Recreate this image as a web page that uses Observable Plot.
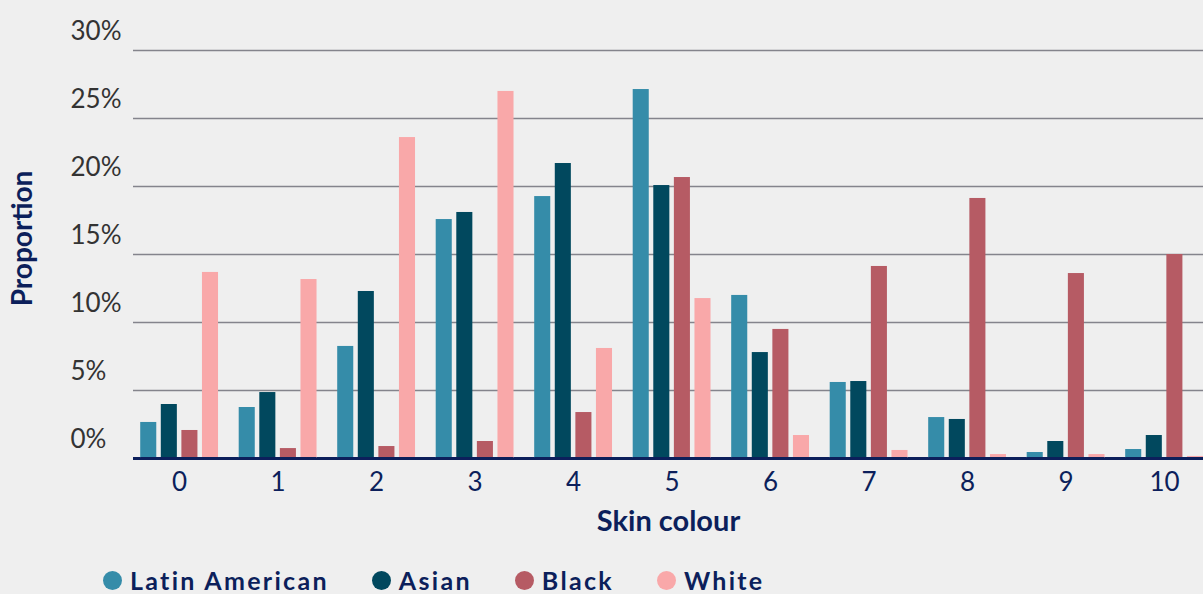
<!DOCTYPE html>
<html>
<head>
<meta charset="utf-8">
<script src="https://cdn.jsdelivr.net/npm/d3@7"></script>
<script src="https://cdn.jsdelivr.net/npm/@observablehq/plot@0.6"></script>
<style>
  html, body { margin: 0; padding: 0; background: #efefef; overflow: hidden; }
  body { width: 1203px; height: 594px; font-family: Lato, "Noto Sans", sans-serif; }
  #chart { position: relative; width: 1203px; height: 555px; }
  #chart svg { display: block; position: absolute; left: 0; top: 0; }
  #legend { display: flex; align-items: center; margin-top: 12px; padding-left: 103px; height: 26px; }
  .item { display: flex; align-items: center; margin-right: 43px; }
  .sw { width: 19px; height: 19px; border-radius: 50%; margin-right: 8px; }
  .lab { font-family: Lato, sans-serif; font-weight: 700; font-size: 25px; letter-spacing: 2.3px; color: #0c1f5b; line-height: 26px; }
</style>
</head>
<body>
<div id="chart"></div>
<div id="legend"></div>
<script>
const categories = ["0","1","2","3","4","5","6","7","8","9","10"];
const seriesNames = ["Latin American", "Asian", "Black", "White"];
const seriesColors = ["#358ca9", "#01485e", "#b65b64", "#f9a8a9"];
const latinAmerican = [2.65, 3.75, 8.24, 17.57, 19.26, 27.13, 11.99, 5.59, 3.01, 0.44, 0.66];
const asian         = [3.97, 4.85, 12.28, 18.09, 21.69, 20.07, 7.79, 5.66, 2.87, 1.25, 1.69];
const black         = [2.06, 0.73, 0.88, 1.25, 3.38, 20.66, 9.49, 14.12, 19.12, 13.6, 15.0];
const white         = [13.68, 13.16, 23.6, 26.99, 8.09, 11.76, 1.69, 0.59, 0.29, 0.29, 0.15];
const yTicks = [0, 5, 10, 15, 20, 25, 30];

const seriesValues = [latinAmerican, asian, black, white];
const data = [];
categories.forEach((c, i) => {
  seriesNames.forEach((s, j) => data.push({cat: c, series: s, value: seriesValues[j][i]}));
});

const navy = "#0c1f5b";
const common = {
  width: 1203,
  height: 555,
  marginTop: 50,
  marginBottom: 97,
  marginLeft: 133,
  marginRight: 0,
  y: {domain: [0, 30], axis: null}
};

// Background layer: grid, y labels, axis titles
const back = Plot.plot({
  ...common,
  style: {background: "#efefef", fontFamily: "Lato, sans-serif"},
  marks: [
    Plot.ruleY(yTicks.filter(d => d > 0), {stroke: "#84848c", strokeWidth: 1.6}),
    Plot.ruleY([0], {stroke: navy, strokeWidth: 3}),
    Plot.text(yTicks, {y: d => d, text: d => d + "%", frameAnchor: "left", textAnchor: "start", lineAnchor: "middle", dx: -63, dy: -19, fontSize: 26, fill: "#333"}),
    Plot.text(["Skin colour"], {frameAnchor: "bottom", textAnchor: "middle", lineAnchor: "middle", dy: 63, fontSize: 29, fontWeight: 700, fill: navy}),
    Plot.text(["Proportion"], {frameAnchor: "left", textAnchor: "middle", lineAnchor: "middle", rotate: -90, dx: -110, dy: -16, fontSize: 28, fontWeight: 700, fill: navy})
  ]
});

// Foreground layer: grouped bars faceted by category
const front = Plot.plot({
  ...common,
  style: {background: "transparent", fontFamily: "Lato, sans-serif"},
  fx: {domain: categories, paddingInner: 0.21, paddingOuter: 0.0366, align: 1, round: false, label: null},
  x: {domain: seriesNames, paddingInner: 0.22, paddingOuter: 0, round: false, axis: null},
  color: {domain: seriesNames, range: seriesColors},
  marks: [
    Plot.barY(data, {fx: "cat", x: "series", y: "value", fill: "series"}),
    Plot.ruleY([0], {stroke: navy, strokeWidth: 3}),
    Plot.axisFx({anchor: "bottom", tickSize: 0, tickPadding: 14, fontSize: 26, fill: navy, label: null})
  ]
});

const chart = document.getElementById("chart");
chart.appendChild(back);
chart.appendChild(front);

const legend = document.getElementById("legend");
seriesNames.forEach((s, j) => {
  const item = document.createElement("div");
  item.className = "item";
  const sw = document.createElement("div");
  sw.className = "sw";
  sw.style.background = seriesColors[j];
  const lab = document.createElement("span");
  lab.className = "lab";
  lab.textContent = s;
  item.appendChild(sw);
  item.appendChild(lab);
  legend.appendChild(item);
});
</script>
</body>
</html>
